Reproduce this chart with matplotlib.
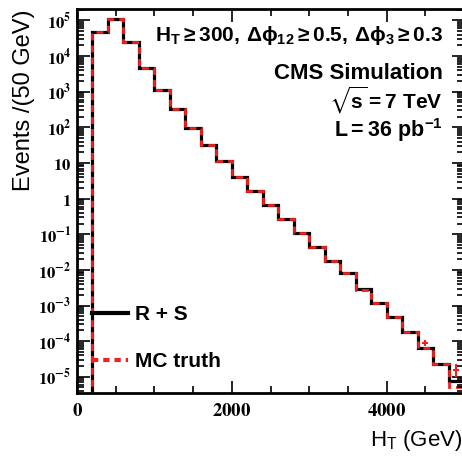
import matplotlib
matplotlib.use("Agg")
import matplotlib.pyplot as plt
import numpy as np
from matplotlib.lines import Line2D
from matplotlib.ticker import LogLocator, MultipleLocator, NullFormatter

plt.rcParams["mathtext.fontset"] = "custom"
plt.rcParams["mathtext.rm"] = "Liberation Sans:bold"
plt.rcParams["mathtext.it"] = "Liberation Sans:bold"
plt.rcParams["mathtext.bf"] = "Liberation Sans:bold"
plt.rcParams["mathtext.sf"] = "Liberation Sans:bold"
plt.rcParams["mathtext.fallback"] = "stixsans"

# H_T bin edges (GeV) and contents
BIN_EDGES = np.arange(200, 5001, 200)
RS_COUNTS = [4.6e4, 1.1e5, 2.5e4, 4.6e3, 1.15e3, 3.2e2, 93, 32, 11.5, 4.1,
             1.6, 0.66, 0.26, 0.105, 0.044, 0.018, 0.008, 0.003, 1.15e-3,
             4.8e-4, 1.8e-4, 6.6e-5, 2.3e-5, 7.8e-6]
MC_COUNTS = [4.6e4, 1.1e5, 2.5e4, 4.6e3, 1.15e3, 3.2e2, 93, 32, 11.5, 4.1,
             1.6, 0.66, 0.26, 0.105, 0.044, 0.018, 0.008, 0.0027, 1.15e-3,
             4.8e-4, 1.8e-4, 6.6e-5, 2.3e-5, 5.0e-6]
# MC truth error markers in the tail
MC_ERR_X = [4500, 4900]
MC_ERR_Y = [9.0e-5, 1.5e-5]
MC_ERR_LO = [1.5e-5, 5e-6]
MC_ERR_HI = [1.5e-5, 8e-6]

Y_TICKS = [1e-5, 1e-4, 1e-3, 1e-2, 1e-1, 1, 10, 1e2, 1e3, 1e4, 1e5]


def ylabel_text(v):
    e = int(round(np.log10(v)))
    if e == 0:
        return r"$\mathbf{1}$"
    if e == 1:
        return r"$\mathbf{10}$"
    return r"$\mathbf{10^{%d}}$" % e


fig = plt.figure(figsize=(4.62, 4.57), dpi=100)
ax = fig.add_axes([77 / 462, 1 - 393 / 457, 387 / 462, 384 / 457])

ax.stairs(RS_COUNTS, BIN_EDGES, baseline=1e-9, color="black", lw=2.3)
ax.stairs(MC_COUNTS, BIN_EDGES, baseline=1e-9, color="#ee2222", lw=2.0,
          linestyle=(0, (2.5, 1.8)))
ax.errorbar(MC_ERR_X, MC_ERR_Y, yerr=[MC_ERR_LO, MC_ERR_HI], xerr=40,
            fmt="none", ecolor="#ee2222", elinewidth=1.5)

ax.set_yscale("log")
ax.set_xlim(0, 5000)
ax.set_ylim(3.5e-6, 2.1e5)

ax.set_yticks(Y_TICKS, [ylabel_text(v) for v in Y_TICKS],
              math_fontfamily="stix", fontsize=12)
ax.yaxis.set_minor_locator(LogLocator(base=10, subs=np.arange(2, 10), numticks=100))
ax.yaxis.set_minor_formatter(NullFormatter())
ax.set_xticks([0, 2000, 4000], [r"$\mathbf{0}$", r"$\mathbf{2000}$", r"$\mathbf{4000}$"],
              math_fontfamily="stix", fontsize=13.5)
ax.xaxis.set_minor_locator(MultipleLocator(500))

ax.tick_params(which="both", direction="in", top=True, right=True, width=1.2)
ax.tick_params(which="major", length=9)
ax.tick_params(which="minor", length=5)
ax.tick_params(axis="y", pad=4)
ax.tick_params(axis="x", pad=6)
for s in ax.spines.values():
    s.set_linewidth(2)

ax.set_ylabel("Events /(50 GeV)", family="Liberation Sans", fontsize=17)
ax.yaxis.set_label_coords(-0.108, 0.763)
ax.set_xlabel(r"H$_{\mathregular{T}}$ (GeV)", family="Liberation Sans", fontsize=16,
              ha="right")
ax.xaxis.set_label_coords(0.995, -0.09)

txt_kw = dict(transform=ax.transAxes, ha="right", va="center")
ax.text(0.946, 0.932,
        r"$\mathrm{H_T \geq 300,\,\Delta\phi_{12} \geq 0.5,\,\Delta\phi_{3} \geq 0.3}$",
        fontsize=15, **txt_kw)
ax.text(0.946, 0.833, "CMS Simulation", family="Liberation Sans",
        fontweight="bold", fontsize=16, **txt_kw)
ax.text(0.946, 0.762, r"$\sqrt{\mathrm{s}}\mathrm{=7\ TeV}$", fontsize=15, **txt_kw)
ax.text(0.946, 0.684, r"$\mathrm{L=36\ pb^{-1}}$", fontsize=15.5, **txt_kw)

handles = [Line2D([], [], color="black", lw=3),
           Line2D([], [], color="#ee2222", lw=3, linestyle=(0, (1.5, 1.2)))]
leg = ax.legend(handles, ["R + S", "MC truth"], loc="upper left",
                bbox_to_anchor=(0.04, 0.229), frameon=False, handlelength=1.7,
                handletextpad=0.35, labelspacing=1.35, borderpad=0, borderaxespad=0,
                prop={"family": "Liberation Sans", "weight": "bold", "size": 15})

fig.savefig("out.png", dpi=100)
